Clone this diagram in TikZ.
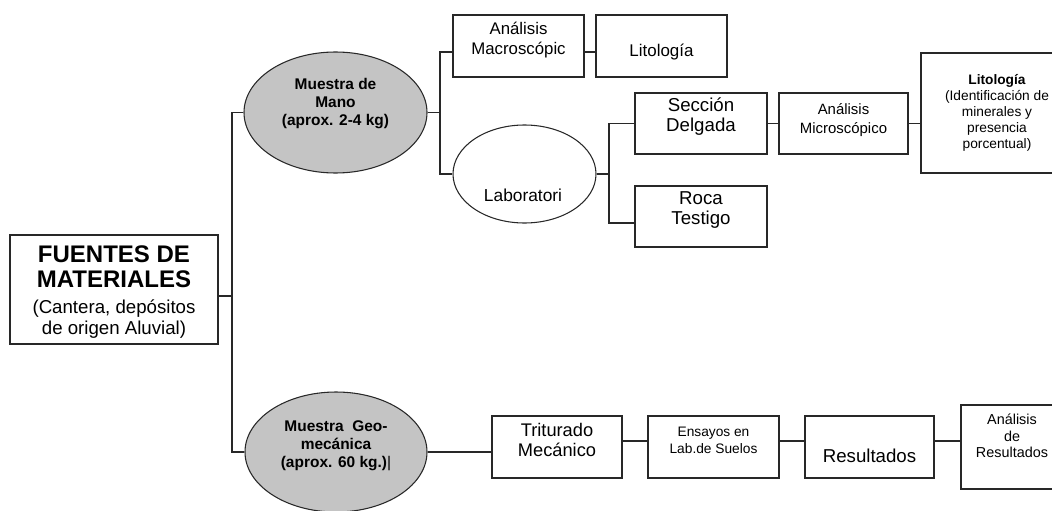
\documentclass[tikz,border=0pt]{standalone}
\usepackage{fontspec}
\setmainfont{Liberation Sans}
\usetikzlibrary{shapes.geometric,fit}
\definecolor{ellfill}{RGB}{196,196,196}
\definecolor{ink}{RGB}{40,40,40}
\tikzset{
  box/.style={draw=ink, line width=1.2pt, rectangle, inner sep=0pt, align=center},
  oval/.style={draw=ink, line width=0.8pt, ellipse, inner sep=0pt},
  txt/.style={inner sep=0pt, align=center},
  conn/.style={draw=ink, line width=1.2pt}
}
\newcommand{\fs}[2]{\fontsize{#1}{#2}\selectfont}
\newcommand{\bigb}{\fs{18}{16}\bfseries}
\begin{document}
\begin{tikzpicture}[x=0.75pt,y=-0.75pt]
\useasboundingbox (0,0) rectangle (1052,510);
\clip (0,0) rectangle (1052,510);

% main source box
\node[box, fit={(10,235)(218,344)}] (F) {};
\node[txt, font=\fs{14}{16}] (Ft) at (114,292) {\bigb FUENTES DE\\[3pt]\bigb MATERIALES\\[3pt](Cantera, depósitos\\de origen Aluvial)};

% ellipses
\node[oval, fill=ellfill, minimum width=137.25pt, minimum height=90.75pt] (M1) at (335.5,112.5) {};
\node[txt, font=\fs{11.6}{13.5}\bfseries] (M1t) at (335.5,104) {Muestra de\\Mano\\(aprox. 2-4 kg)};

\node[oval, fill=ellfill, minimum width=136.5pt, minimum height=90pt] (M2) at (336,452) {};
\node[txt, font=\fs{11.6}{13.5}\bfseries] (M2t) at (336,446) {Muestra\ \ Geo-\\mecánica\\(aprox. 60 kg.){\mdseries|}};

\node[oval, fill=white, minimum width=107.25pt, minimum height=73.5pt] (Lab) at (524.5,174) {};
\node[txt, font=\fs{13}{15}] (Labt) at (523,195) {Laboratori};

% top boxes
\node[box, fit={(453,15)(584,77)}, font=\fs{12.6}{15}] (AM) {Análisis\\Macroscópic};
\node[box, fit={(596,15)(727,77)}] (Lit1) {};
\node[txt, font=\fs{12.7}{15}] (Lit1t) at (661.5,52) {Litología};

\node[box, fit={(635,93)(767,154)}, font=\fs{14}{15}] (Sec) {Sección\\Delgada};
\node[box, fit={(635,186)(767,247)}, font=\fs{14}{15}] (Roca) {Roca\\Testigo};
\node[box, fit={(779,93)(908,154)}] (AMi) {};
\node[txt, font=\fs{11.2}{14}] (AMit) at (843.5,120) {Análisis\\Microscópico};
\node[box, fit={(921,53)(1073,173)}] (LitB) {};
\node[txt, font=\fs{10.3}{12}] (LitBt) at (997,113) {\textbf{Litología}\\(Identificación de\\minerales y\\presencia\\porcentual)};

% bottom boxes
\node[box, fit={(492,416)(622,478)}, font=\fs{13.7}{15}] (Tri) {Triturado\\Mecánico};
\node[box, fit={(648,416)(779,478)}] (Ens) {};
\node[txt, font=\fs{10.3}{12.75}] (Enst) at (713.5,440) {Ensayos en\\Lab.de Suelos};
\node[box, fit={(805,416)(934,478)}] (Res) {};
\node[txt, font=\fs{14}{15}] (Rest) at (869.5,456) {Resultados};
\node[box, fit={(961,405)(1063,489)}] (AR) {};
\node[txt, font=\fs{10.8}{12.5}] (ARt) at (1012,436) {Análisis\\de\\Resultados};

% junction coordinates
\coordinate (j0) at (232,296);
\coordinate (t1) at (232,112.5);
\coordinate (t2) at (232,452);
\coordinate (b1) at (440,52);
\coordinate (b2) at (440,174);
\coordinate (c1) at (609,123.5);
\coordinate (c2) at (609,223);
\coordinate (r) at (0,441);

% connectors
\draw[conn] (F.east |- j0) -- (j0);
\draw[conn] (M1.west) -- (t1) -- (t2) -- (M2.west);
\draw[conn] (M1.east) -- (M1.east -| b1);
\draw[conn] (AM.west |- b1) -- (b1) -- (b2) -- (Lab.west);
\draw[conn] (AM.east |- b1) -- (Lit1.west |- b1);
\draw[conn] (Lab.east) -- (Lab.east -| c1);
\draw[conn] (Sec.west) -- (c1) -- (c2) -- (Roca.west |- c2);
\draw[conn] (Sec.east) -- (AMi.west);
\draw[conn] (AMi.east) -- (LitB.west |- AMi.east);
\draw[conn] (M2.east) -- (Tri.west |- M2.east);
\draw[conn] (Tri.east |- r) -- (Ens.west |- r);
\draw[conn] (Ens.east |- r) -- (Res.west |- r);
\draw[conn] (Res.east |- r) -- (AR.west |- r);
\end{tikzpicture}
\end{document}
